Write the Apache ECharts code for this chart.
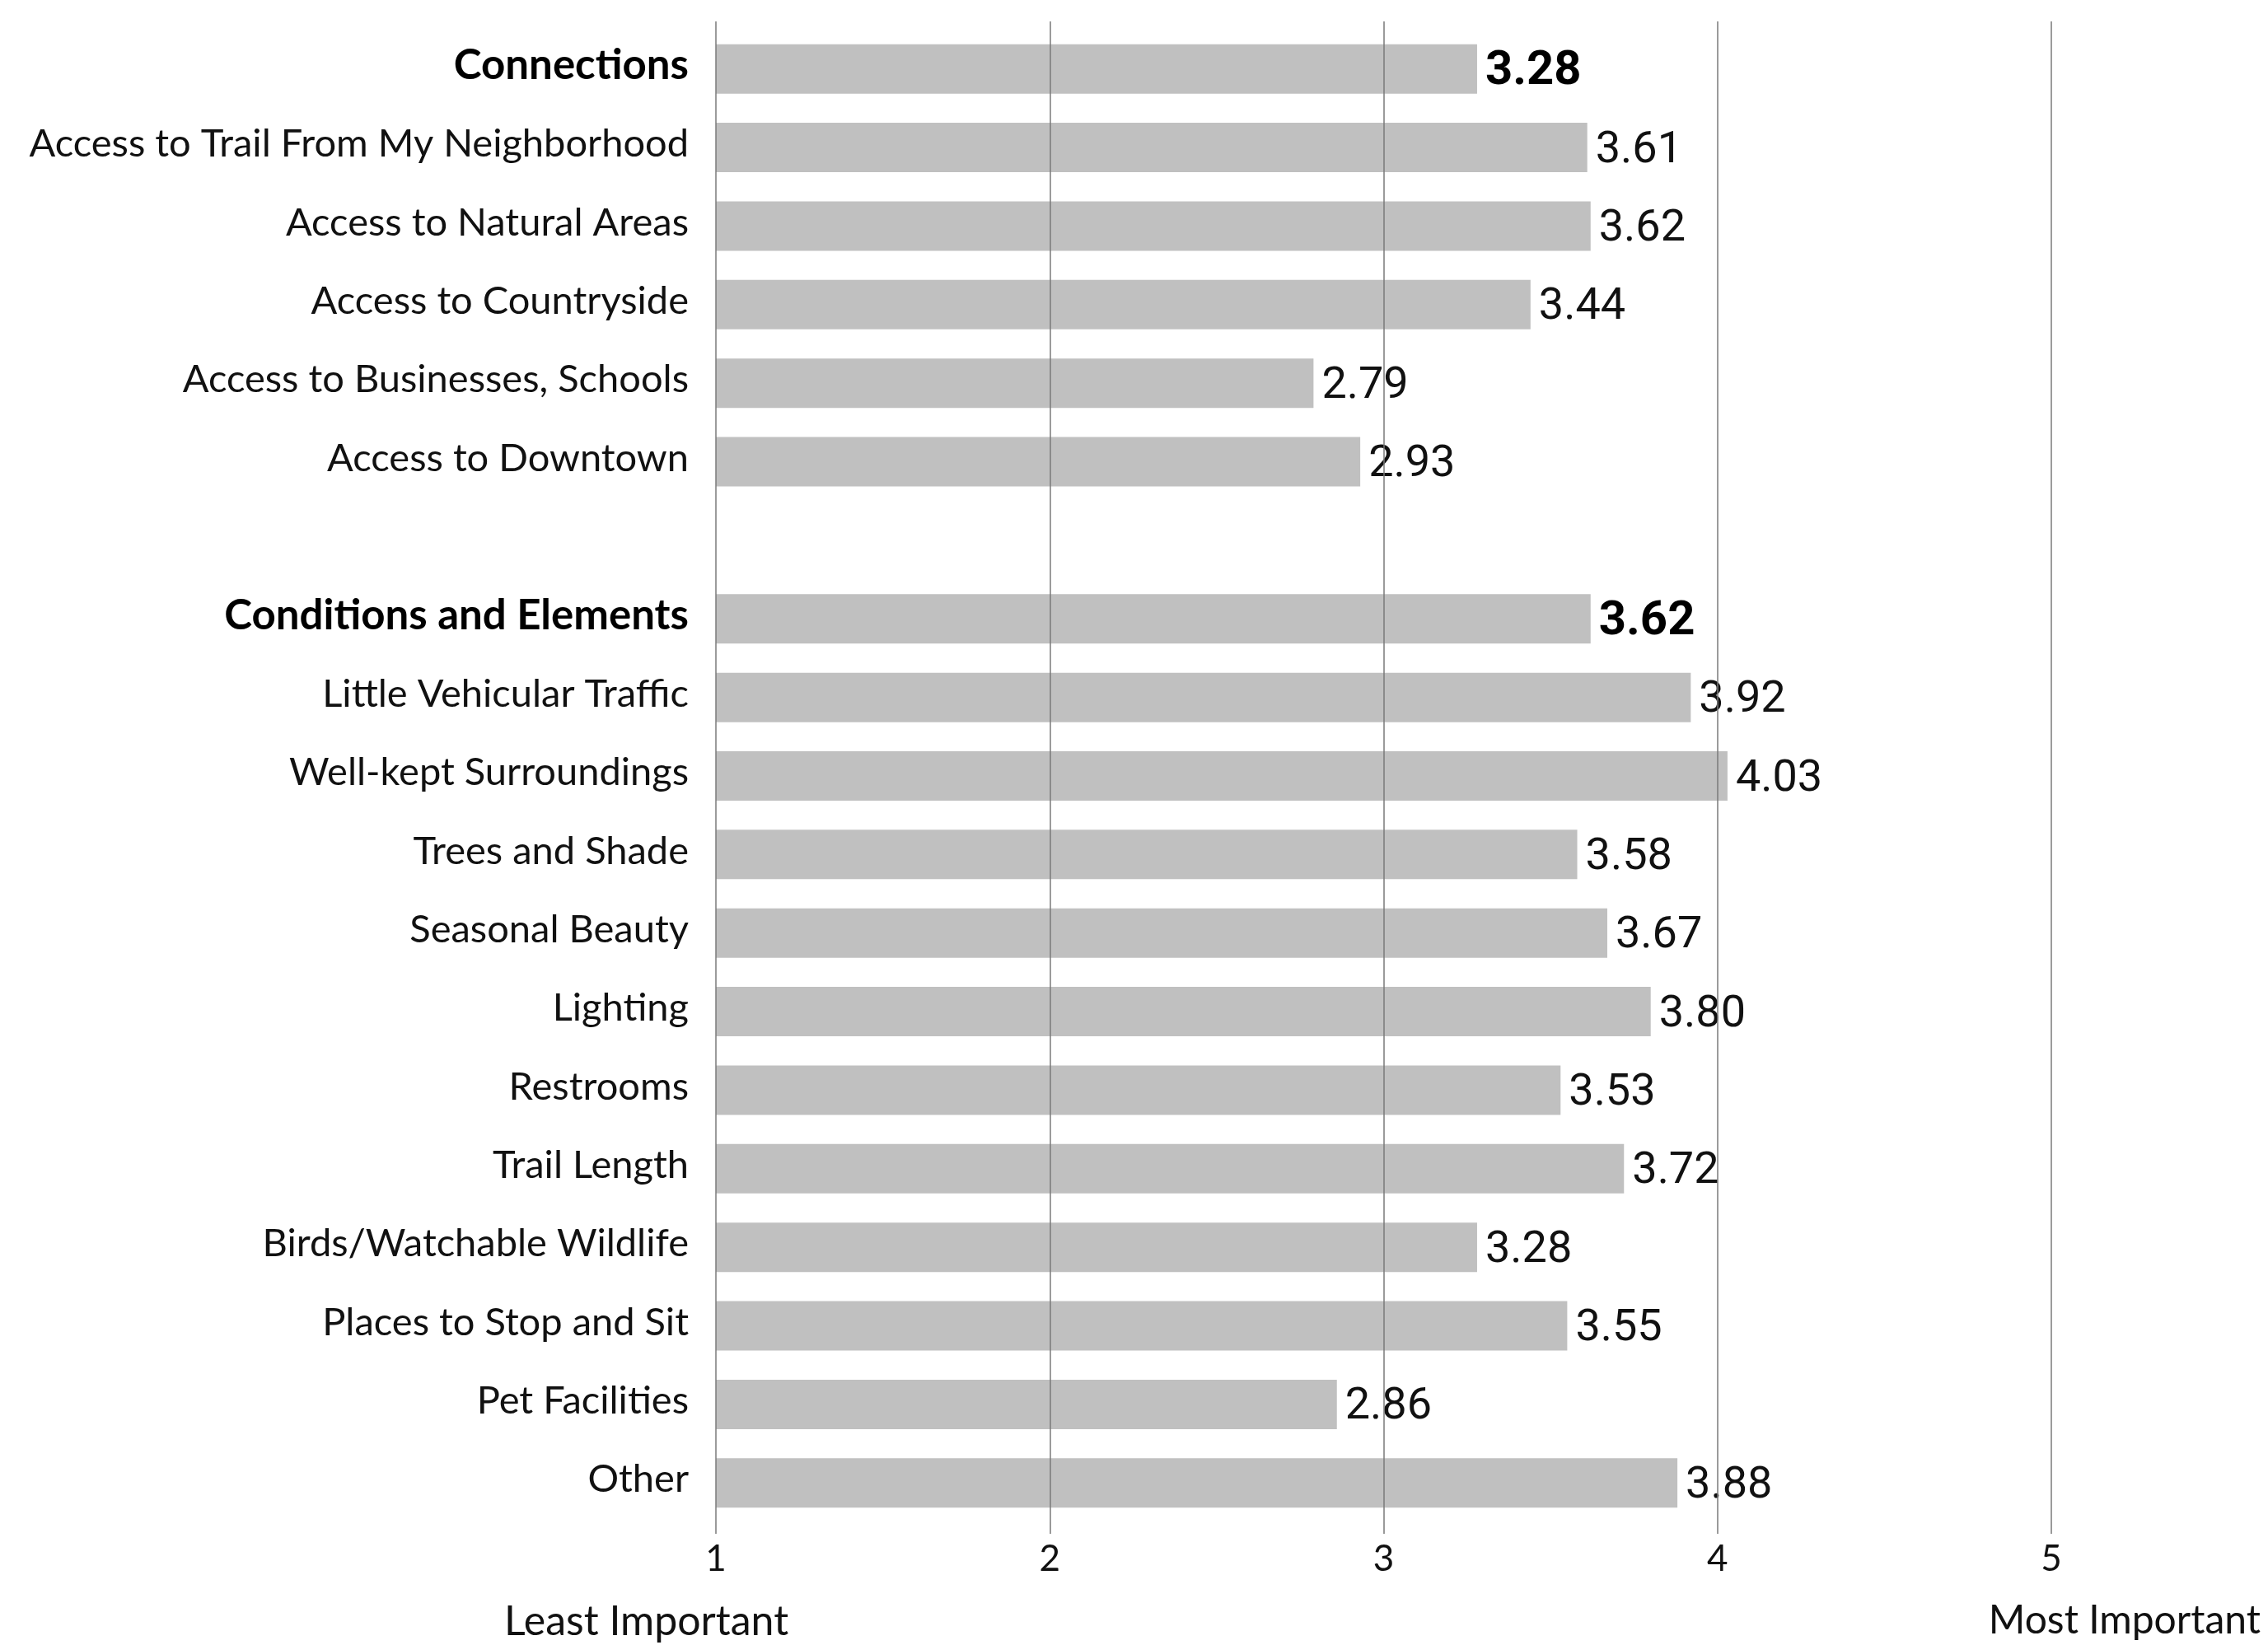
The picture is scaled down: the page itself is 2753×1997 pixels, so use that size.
<!DOCTYPE html>
<html>
<head>
<meta charset="utf-8">
<script src="https://cdn.jsdelivr.net/npm/echarts@6/dist/echarts.min.js"></script>
<style>
html,body{margin:0;padding:0;background:#fff;}
#chart{width:2753px;height:1997px;}
</style>
</head>
<body>
<div id="chart"></div>
<script>
const categories = [
  'Connections',
  'Access to Trail From My Neighborhood',
  'Access to Natural Areas',
  'Access to Countryside',
  'Access to Businesses, Schools',
  'Access to Downtown',
  '',
  'Conditions and Elements',
  'Little Vehicular Traffic',
  'Well-kept Surroundings',
  'Trees and Shade',
  'Seasonal Beauty',
  'Lighting',
  'Restrooms',
  'Trail Length',
  'Birds/Watchable Wildlife',
  'Places to Stop and Sit',
  'Pet Facilities',
  'Other'
];
const values = [3.28, 3.61, 3.62, 3.44, 2.79, 2.93, null,
  3.62, 3.92, 4.03, 3.58, 3.67, 3.80, 3.53, 3.72, 3.28, 3.55, 2.86, 3.88];
const headers = ['Connections', 'Conditions and Elements'];
const tickValues = [1, 2, 3, 4, 5];
const scaleEnds = ['Least Important', 'Most Important'];

const LABEL_FONT = 'Lato';
const VALUE_FONT = 'Roboto';
const gridColor = '#7a7a7a';

const chart = echarts.init(document.getElementById('chart'));
chart.setOption({
  backgroundColor: '#ffffff',
  animation: false,
  grid: { left: 869, right: 263, top: 36, bottom: 149, containLabel: false },
  xAxis: [
    {
      type: 'value', position: 'bottom', min: 1, max: 5, interval: 1, z: 5,
      axisLine: { show: false },
      axisTick: { show: true, length: 14, lineStyle: { color: gridColor, width: 1.5 } },
      axisLabel: {
        margin: 23, fontFamily: LABEL_FONT, fontSize: 44, color: '#111',
        formatter: v => tickValues.includes(v) ? String(v) : ''
      },
      splitLine: { show: true, lineStyle: { color: gridColor, width: 1.5 } }
    },
    {
      type: 'value', position: 'top', min: 1, max: 5, interval: 1, z: 5,
      axisLine: { show: false },
      axisTick: { show: true, length: 10, lineStyle: { color: gridColor, width: 1.5 } },
      axisLabel: { show: false },
      splitLine: { show: false }
    }
  ],
  yAxis: {
    type: 'category', data: categories, inverse: true,
    axisLine: { show: false }, axisTick: { show: false },
    axisLabel: {
      margin: 33, fontFamily: LABEL_FONT, fontSize: 47, color: '#111',
      padding: [0, 0, 8, 0],
      formatter: v => headers.includes(v) ? '{b|' + v + '}' : v,
      rich: { b: { fontFamily: LABEL_FONT, fontSize: 51, fontWeight: 'bold', color: '#000' } }
    }
  },
  series: [{
    type: 'bar', xAxisIndex: 0,
    data: values.map((v, i) => ({
      value: v,
      label: headers.includes(categories[i]) ? { fontWeight: 'bold', fontSize: 58, color: '#000' } : {}
    })),
    barWidth: 60,
    itemStyle: { color: '#c0c0c0' },
    label: {
      show: true, position: 'right', distance: 10, offset: [0, 4],
      fontFamily: VALUE_FONT, fontSize: 54, color: '#111',
      formatter: p => p.value == null ? '' : p.value.toFixed(2)
    }
  }],
  graphic: [
    { type: 'text', left: 612, top: 1944,
      style: { text: scaleEnds[0], fontFamily: LABEL_FONT, fontSize: 50, fill: '#111' } },
    { type: 'text', right: 9, top: 1944,
      style: { text: scaleEnds[1], fontFamily: LABEL_FONT, fontSize: 48, fill: '#111' } }
  ]
});
</script>
</body>
</html>
